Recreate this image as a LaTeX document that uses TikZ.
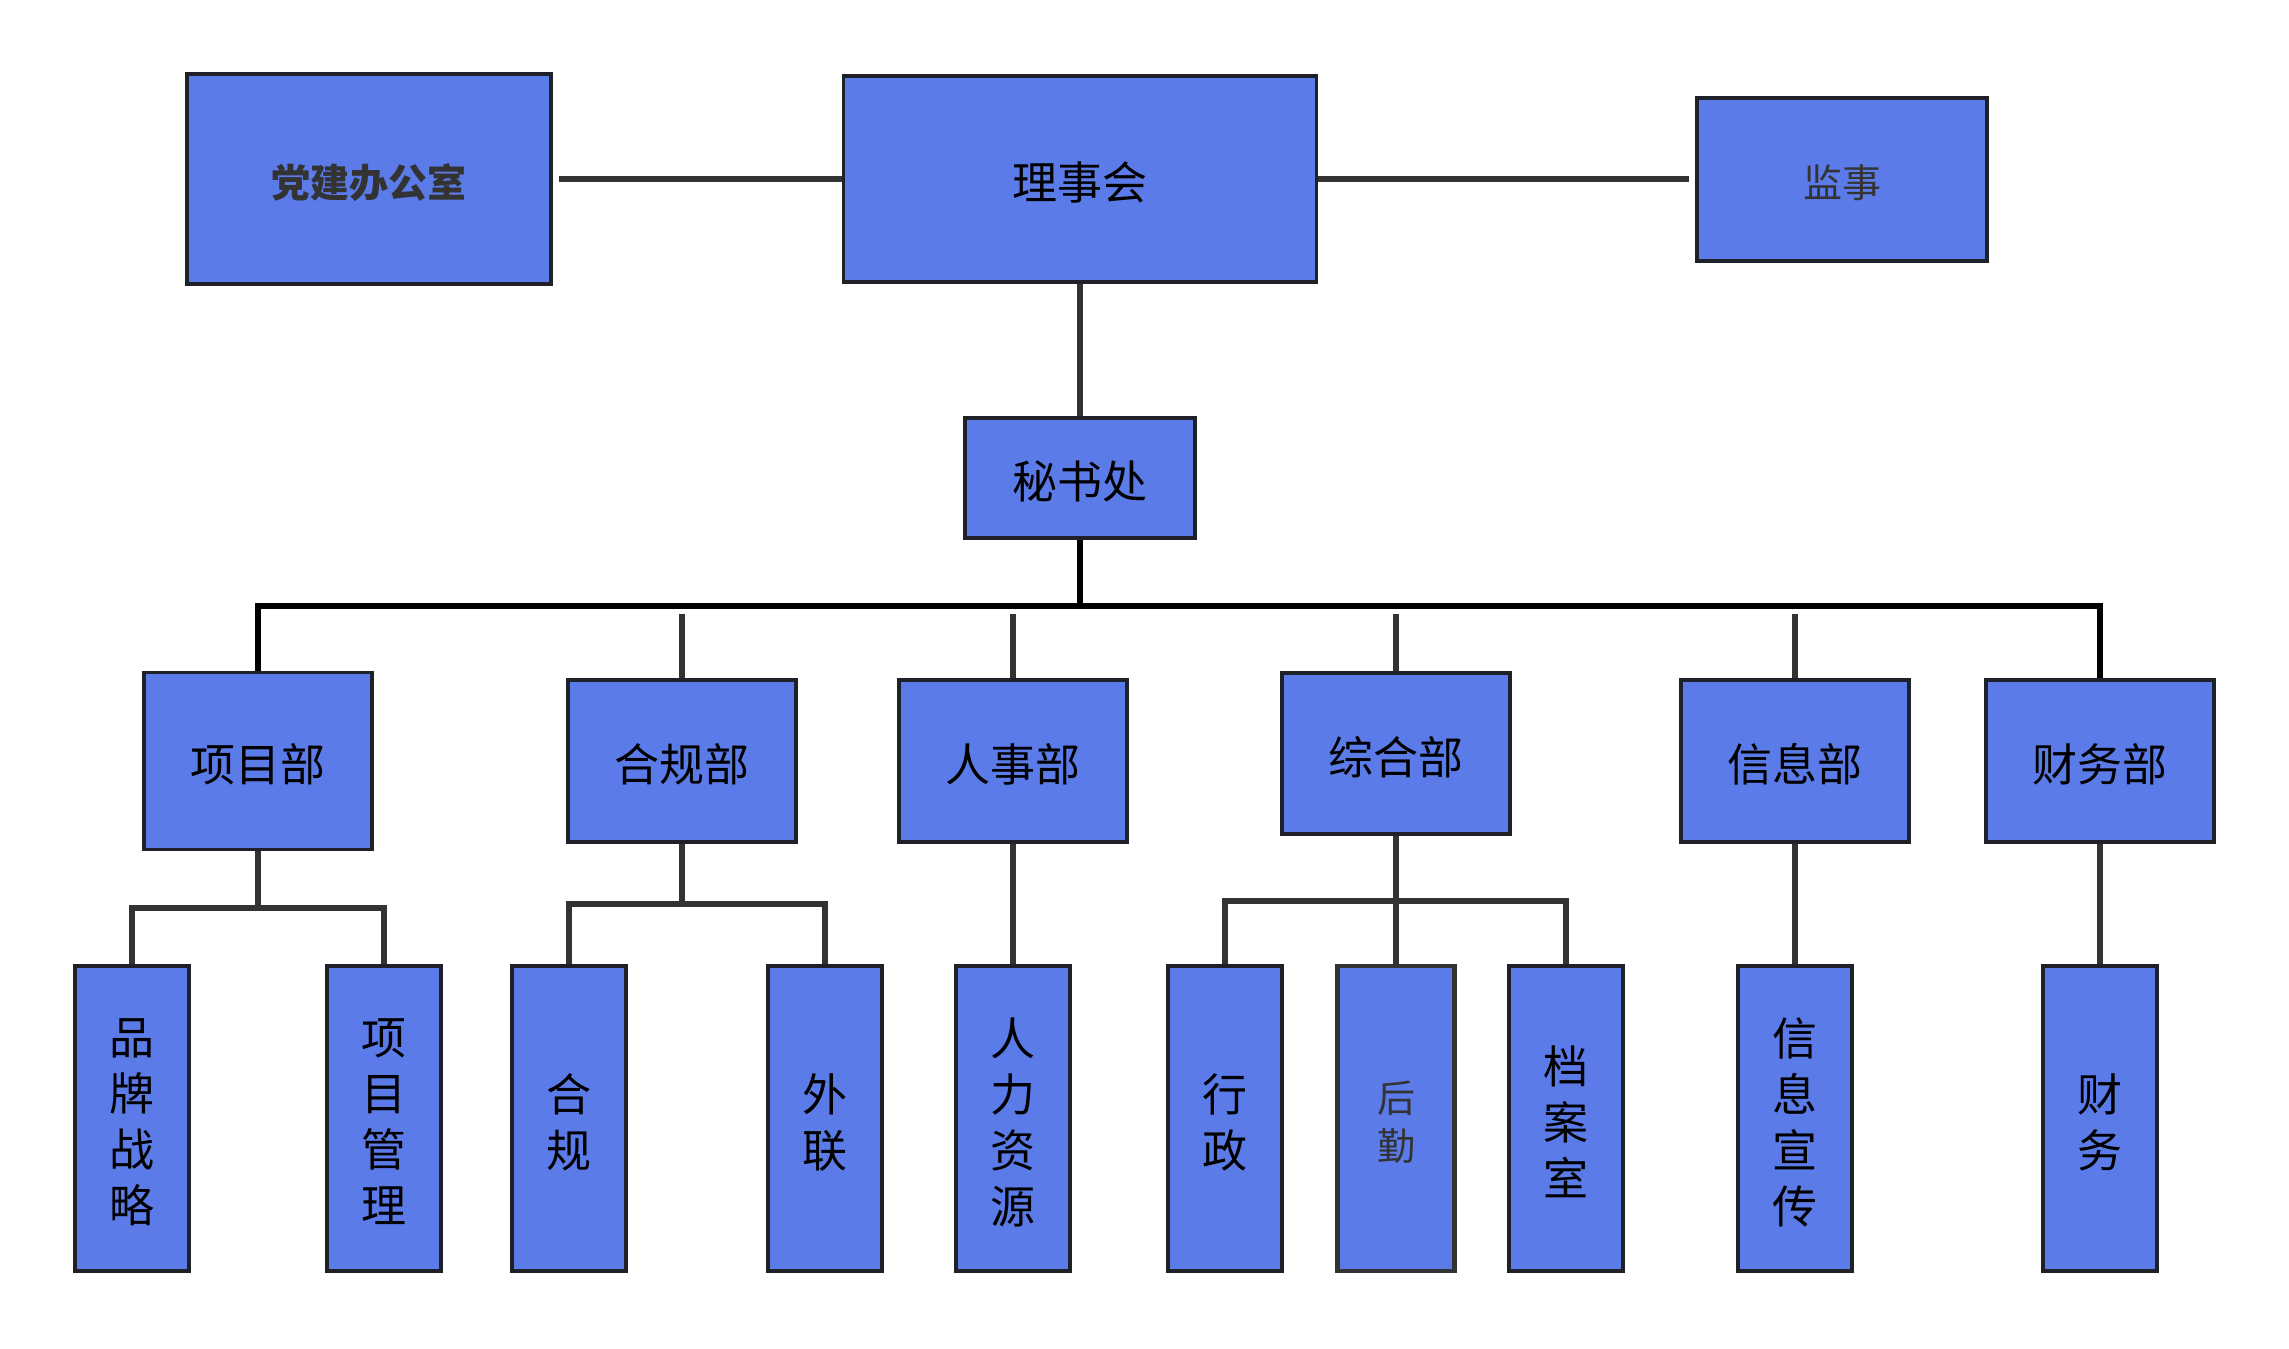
\documentclass[tikz,border=0pt]{standalone}
\usepackage{fontspec}
\setmainfont{Noto Sans CJK SC}
\definecolor{boxfill}{HTML}{5B7BE8}
\definecolor{boxline}{HTML}{1E2228}
\definecolor{connc}{HTML}{333333}
\definecolor{txtgray}{HTML}{333333}
\begin{document}
\begin{tikzpicture}[x=0.5pt,y=-0.5pt,
  box/.style={draw=boxline,fill=boxfill,line width=1.8pt,inner sep=0pt},
  sub/.style={box,minimum width=57pt,minimum height=152.5pt},
  dept/.style={box,minimum width=114pt,minimum height=81pt},
  lbl/.style={inner sep=0pt,text=black,font=\fontsize{22.5}{28}\selectfont,align=center,yshift=-1.8pt},
  lblg/.style={lbl,text=txtgray,font=\fontsize{19.5}{24}\selectfont},
  conn/.style={draw=connc,line width=2.8pt},
  busline/.style={draw=black,line width=3pt}]
\useasboundingbox[fill=white] (0,0) rectangle (2289,1348);
% top row
\node[box,minimum width=182pt,minimum height=105pt] (dj) at (369,179) {};
\node[box,minimum width=236.5pt,minimum height=103pt] (lsh) at (1080,179) {};
\node[box,minimum width=145pt,minimum height=81.5pt] (js) at (1842,179.5) {};
\node[box,minimum width=115pt,minimum height=60pt] (ms) at (1080,478) {};
% departments
\node[dept,minimum height=88.5pt] (xm) at (258,761) {};
\node[dept] (hg) at (682,761) {};
\node[dept] (rs) at (1013,761) {};
\node[dept,minimum height=80.5pt] (zh) at (1396,753.5) {};
\node[dept] (xx) at (1795,761) {};
\node[dept] (cw) at (2100,761) {};
% sub units
\node[sub] (ppzl) at (132,1118.5) {};
\node[sub] (xmgl) at (384,1118.5) {};
\node[sub] (hgs) at (569,1118.5) {};
\node[sub] (wl) at (825,1118.5) {};
\node[sub] (rlzy) at (1013,1118.5) {};
\node[sub] (xz) at (1225,1118.5) {};
\node[sub,minimum width=58.5pt,line width=2.2pt,draw=connc] (hq) at (1396,1118.5) {};
\node[sub] (da) at (1566,1118.5) {};
\node[sub] (xxxc) at (1795,1118.5) {};
\node[sub] (cws) at (2100,1118.5) {};
% labels
\node[lblg,font=\fontsize{19.5}{24}\selectfont\bfseries] (dj-t) at (dj.center) {党建办公室};
\node[lbl] (lsh-t) at (lsh.center) {理事会};
\node[lblg] (js-t) at (js.center) {监事};
\node[lbl] (ms-t) at (ms.center) {秘书处};
\node[lbl] (xm-t) at (xm.center) {项目部};
\node[lbl] (hg-t) at (hg.center) {合规部};
\node[lbl] (rs-t) at (rs.center) {人事部};
\node[lbl] (zh-t) at (zh.center) {综合部};
\node[lbl] (xx-t) at (xx.center) {信息部};
\node[lbl] (cw-t) at (cw.center) {财务部};
\node[lbl] (ppzl-t) at (ppzl.center) {品\\牌\\战\\略};
\node[lbl] (xmgl-t) at (xmgl.center) {项\\目\\管\\理};
\node[lbl] (hgs-t) at (hgs.center) {合\\规};
\node[lbl] (wl-t) at (wl.center) {外\\联};
\node[lbl] (rlzy-t) at (rlzy.center) {人\\力\\资\\源};
\node[lbl] (xz-t) at (xz.center) {行\\政};
\node[lblg,font=\fontsize{19}{24}\selectfont] (hq-t) at (hq.center) {后\\勤};
\node[lbl] (da-t) at (da.center) {档\\案\\室};
\node[lbl] (xxxc-t) at (xxxc.center) {信\\息\\宣\\传};
\node[lbl] (cws-t) at (cws.center) {财\\务};
% coordinates
\coordinate (bus) at (1080,606);
\coordinate (gap) at (0,614);
\coordinate (djend) at (559,179);
\coordinate (jsend) at (1689,179);
\coordinate (bxm) at (0,908);
\coordinate (bhg) at (0,904);
\coordinate (bzh) at (0,901);
% top connectors
\draw[conn] (djend) -- (lsh.west);
\draw[conn] (lsh.east) -- (jsend);
\draw[conn] (lsh.south) -- (ms.north);
% bus
\draw[busline] (ms.south) -- (bus);
\draw[busline] (xm.north) |- (bus) -| (cw.north);
\draw[conn] (hg.north) -- (hg.north |- gap);
\draw[conn] (rs.north) -- (rs.north |- gap);
\draw[conn] (zh.north) -- (zh.north |- gap);
\draw[conn] (xx.north) -- (xx.north |- gap);
% department to sub units
\draw[conn] (xm.south) -- (xm.south |- bxm);
\draw[conn] (ppzl.north) |- (xm.south |- bxm) -| (xmgl.north);
\draw[conn] (hg.south) -- (hg.south |- bhg);
\draw[conn] (hgs.north) |- (hg.south |- bhg) -| (wl.north);
\draw[conn] (rs.south) -- (rlzy.north);
\draw[conn] (zh.south) -- (hq.north);
\draw[conn] (xz.north) |- (zh.south |- bzh) -| (da.north);
\draw[conn] (xx.south) -- (xxxc.north);
\draw[conn] (cw.south) -- (cws.north);
\end{tikzpicture}
\end{document}
